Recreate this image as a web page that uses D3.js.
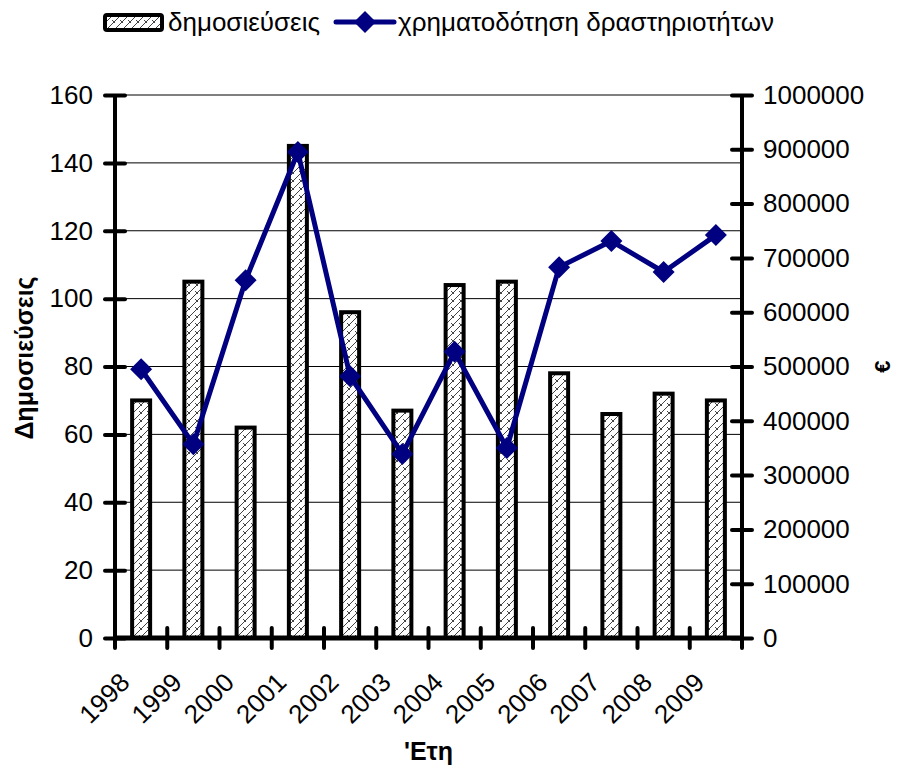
<!DOCTYPE html>
<html>
<head>
<meta charset="utf-8">
<script src="https://cdn.jsdelivr.net/npm/d3@7"></script>
<style>
  body { margin: 0; background: #fff; }
  text { font-family: "Liberation Sans", Arial, sans-serif; }
</style>
</head>
<body>
<div id="chart"></div>
<script>
let years = ['1998', '1999', '2000', '2001', '2002', '2003', '2004', '2005', '2006', '2007', '2008', '2009'];
let publications = [70, 105, 62, 145, 96, 67, 104, 105, 78, 66, 72, 70];
let funding = [495000, 357000, 659000, 895000, 482000, 339000, 527000, 350000, 683000, 731000, 674000, 742000];
let leftTicks = [0, 20, 40, 60, 80, 100, 120, 140, 160];
let rightTicks = [0, 100000, 200000, 300000, 400000, 500000, 600000, 700000, 800000, 900000, 1000000];
let seriesNames = ['δημοσιεύσεις', 'χρηματοδότηση δραστηριοτήτων'];

let W = 901, H = 769;
let margin = {top: 95, right: 159, bottom: 131, left: 115};
let width = W - margin.left - margin.right;
let height = H - margin.top - margin.bottom;

let x = d3.scaleBand().domain(years).range([0, width]);
let y = d3.scaleLinear().domain([0, 160]).range([height, 0]);
let y2 = d3.scaleLinear().domain([0, 1000000]).range([height, 0]);

let svg = d3.select('#chart')
  .append('svg')
  .attr('width', W)
  .attr('height', H);

// hatch pattern for bars
let defs = svg.append('defs');
let pat = defs.append('pattern')
  .attr('id', 'hatch')
  .attr('patternUnits', 'userSpaceOnUse')
  .attr('width', 8)
  .attr('height', 8);
pat.append('rect').attr('width', 8).attr('height', 8).attr('fill', '#fff');
pat.append('path')
  .attr('d', 'M0,8 L8,0 M-2,2 L2,-2 M6,10 L10,6 M0,4 L3,7')
  .attr('stroke', '#444')
  .attr('stroke-width', 1)
  .attr('fill', 'none');

let g = svg.append('g')
  .attr('transform', `translate(${margin.left},${margin.top})`);

// gridlines
g.append('g')
  .attr('class', 'grid')
  .selectAll('line')
  .data(leftTicks.filter(d => d > 0))
  .enter()
  .append('line')
  .attr('x1', 0)
  .attr('x2', width)
  .attr('y1', d => y(d))
  .attr('y2', d => y(d))
  .attr('stroke', '#000')
  .attr('stroke-width', 1);

// bars
let barW = 18;
g.append('g')
  .attr('class', 'bars')
  .selectAll('rect')
  .data(publications)
  .enter()
  .append('rect')
  .attr('x', (d, i) => x(years[i]) + x.bandwidth() / 2 - barW / 2)
  .attr('y', d => y(d))
  .attr('width', barW)
  .attr('height', d => height - y(d))
  .attr('fill', 'url(#hatch)')
  .attr('stroke', '#000')
  .attr('stroke-width', 4);

// axes
function styleAxis(sel) {
  sel.select('.domain').remove();
  sel.selectAll('.tick line')
    .attr('stroke', '#000')
    .attr('stroke-width', 4)
    .attr('stroke-linecap', 'round');
  sel.selectAll('.tick text')
    .attr('font-size', 26)
    .attr('fill', '#000');
}

let leftAxis = g.append('g')
  .attr('class', 'y axis')
  .call(d3.axisLeft(y).tickValues(leftTicks).tickSize(10).tickPadding(12).tickFormat(d3.format('d')))
  .call(styleAxis);
leftAxis.selectAll('.tick line').attr('x2', -10).attr('x1', 10);

let rightAxis = g.append('g')
  .attr('class', 'y2 axis')
  .attr('transform', `translate(${width},0)`)
  .call(d3.axisRight(y2).tickValues(rightTicks).tickSize(10).tickPadding(11).tickFormat(d3.format('d')))
  .call(styleAxis);
rightAxis.selectAll('.tick line').attr('x1', -10).attr('x2', 10);

let xAxis = g.append('g')
  .attr('class', 'x axis')
  .attr('transform', `translate(0,${height})`)
  .call(d3.axisBottom(x).tickSize(0).tickPadding(0))
  .call(styleAxis);
xAxis.selectAll('.tick text')
  .attr('text-anchor', 'end')
  .attr('transform', 'translate(-10,46) rotate(-45)')
  .attr('dy', 0)
  .attr('y', 0);

// category boundary ticks on x axis
g.append('g')
  .selectAll('line')
  .data(years.concat(['end']))
  .enter()
  .append('line')
  .attr('x1', (d, i) => i * x.step())
  .attr('x2', (d, i) => i * x.step())
  .attr('y1', height - 10)
  .attr('y2', height + 10)
  .attr('stroke', '#000')
  .attr('stroke-width', 4)
  .attr('stroke-linecap', 'round');

// axis lines
g.append('line').attr('x1', 0).attr('x2', 0).attr('y1', 0).attr('y2', height)
  .attr('stroke', '#000').attr('stroke-width', 4);
g.append('line').attr('x1', width).attr('x2', width).attr('y1', 0).attr('y2', height)
  .attr('stroke', '#000').attr('stroke-width', 4);
g.append('line').attr('x1', 0).attr('x2', width).attr('y1', height).attr('y2', height)
  .attr('stroke', '#000').attr('stroke-width', 5);

// funding line
let line = d3.line()
  .x((d, i) => x(years[i]) + x.bandwidth() / 2)
  .y(d => y2(d));

g.append('path')
  .datum(funding)
  .attr('fill', 'none')
  .attr('stroke', '#000080')
  .attr('stroke-width', 5)
  .attr('stroke-linejoin', 'round')
  .attr('d', line);

let diamond = 'M0,-11 L11,0 L0,11 L-11,0 Z';
g.append('g')
  .selectAll('path')
  .data(funding)
  .enter()
  .append('path')
  .attr('d', diamond)
  .attr('transform', (d, i) => `translate(${x(years[i]) + x.bandwidth() / 2},${y2(d)})`)
  .attr('fill', '#000080');

// axis titles
svg.append('text')
  .attr('transform', 'translate(33,358) rotate(-90)')
  .attr('text-anchor', 'middle')
  .attr('font-size', 25)
  .attr('font-weight', 'bold')
  .text('Δημοσιεύσεις');

svg.append('text')
  .attr('transform', `translate(890,${margin.top + height / 2}) rotate(-90)`)
  .attr('text-anchor', 'middle')
  .attr('font-size', 22)
  .attr('font-weight', 'bold')
  .text('€');

svg.append('text')
  .attr('x', margin.left + width / 2)
  .attr('y', 760)
  .attr('text-anchor', 'middle')
  .attr('font-size', 25)
  .attr('font-weight', 'bold')
  .text('\'Ετη');

// legend
let legend = svg.append('g').attr('class', 'legend');
legend.append('rect')
  .attr('x', 105).attr('y', 15).attr('width', 57).attr('height', 15)
  .attr('rx', 2)
  .attr('fill', 'url(#hatch)')
  .attr('stroke', '#000')
  .attr('stroke-width', 4);
legend.append('text')
  .attr('x', 168).attr('y', 31)
  .attr('font-size', 26)
  .text(seriesNames[0]);
legend.append('line')
  .attr('x1', 336).attr('x2', 394).attr('y1', 22).attr('y2', 22)
  .attr('stroke', '#000080').attr('stroke-width', 5).attr('stroke-linecap', 'round');
legend.append('path')
  .attr('d', diamond)
  .attr('transform', 'translate(365,22)')
  .attr('fill', '#000080');
legend.append('text')
  .attr('x', 398).attr('y', 31)
  .attr('font-size', 26)
  .text(seriesNames[1]);
</script>
</body>
</html>
